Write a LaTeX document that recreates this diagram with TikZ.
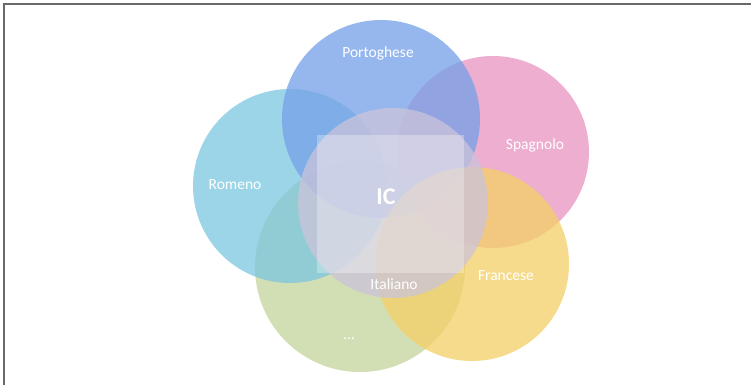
\documentclass[tikz,border=0pt]{standalone}
\usepackage{fontspec}
\setmainfont{Carlito}
\definecolor{cPort}{RGB}{116,160,232}
\definecolor{cRom}{RGB}{124,199,225}
\definecolor{cSpa}{RGB}{231,148,192}
\definecolor{cFra}{RGB}{245,208,102}
\definecolor{cDot}{RGB}{195,212,155}
\definecolor{cIta}{RGB}{203,196,218}
\definecolor{cFrame}{RGB}{105,105,105}
\begin{document}
\begin{tikzpicture}[x=1pt,y=-1pt,
  venn/.style={circle, inner sep=0pt, outer sep=0pt, draw=none, fill opacity=0.75},
  lbl/.style={text=white, inner sep=0pt, font=\fontsize{15.5}{18}\selectfont},
  frameline/.style={draw=cFrame, line width=2pt}]
\useasboundingbox (0,0) rectangle (751,385);
\fill[white] (0,0) rectangle (751,385);
\coordinate (fa) at (3.5,385);
\coordinate (fb) at (3.5,4.5);
\coordinate (fc) at (751,4.5);
\draw[frameline] (fa) -- (fb) -- (fc);
% circles
\node[venn, fill=cDot, minimum size=210pt] (cdot) at (360,267) {};
\node[venn, fill=cSpa, minimum size=192pt] (cspa) at (493,152) {};
\node[venn, fill=cRom, minimum size=194pt] (crom) at (290,186) {};
\node[venn, fill=cPort, minimum size=198pt] (cport) at (381,119) {};
\node[venn, fill=cFra, minimum size=194pt] (cfra) at (472,264) {};
\node[venn, fill=cIta, minimum size=190pt] (cita) at (393,203) {};
% central square
\node[rectangle, inner sep=0pt, draw=none, fill=white, fill opacity=0.3,
      minimum width=147pt, minimum height=138pt] (sq) at (390.5,204) {};
% labels
\node[lbl] (lport) at (378,53) {Portoghese};
\node[lbl] (lspa) at (535,145) {Spagnolo};
\node[lbl] (lrom) at (235,185) {Romeno};
\node[lbl] (lfra) at (506,276) {Francese};
\node[lbl] (lita) at (394,284) {Italiano};
\node[lbl] (ldot) at (349,339) {...};
\node[text=white, inner sep=0pt, font=\bfseries\fontsize{24}{27}\selectfont] (lic) at (386,197) {IC};
\end{tikzpicture}
\end{document}
